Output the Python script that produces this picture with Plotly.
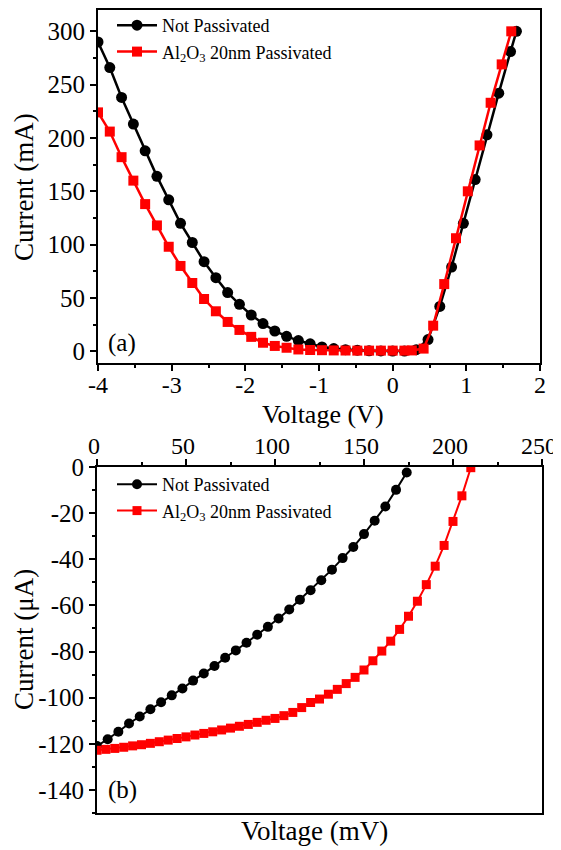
import plotly.graph_objects as go

# ---- Panel (a) data ----
v_np_a = [-4.00, -3.84, -3.68, -3.52, -3.36, -3.20, -3.04, -2.88, -2.72, -2.56, -2.40, -2.24,
          -2.08, -1.92, -1.76, -1.60, -1.44, -1.28, -1.12, -0.96, -0.80, -0.64, -0.48, -0.32,
          -0.16, 0.00, 0.16, 0.32, 0.48, 0.64, 0.80, 0.96, 1.12, 1.28, 1.44, 1.60, 1.68]
i_np_a = [290, 266, 238, 213, 188, 164, 142, 120, 102, 84, 69, 55,
          44, 34, 26, 19, 14, 10, 7, 4, 2.5, 1.5, 1.0, 0.5,
          0.3, 0.2, 0.2, 1.5, 11, 42, 79, 120, 161, 203, 242, 281, 300]

v_al_a = [-4.00, -3.84, -3.68, -3.52, -3.36, -3.20, -3.04, -2.88, -2.72, -2.56, -2.40, -2.24,
          -2.08, -1.92, -1.76, -1.60, -1.44, -1.28, -1.12, -0.96, -0.80, -0.64, -0.48, -0.32,
          -0.16, 0.00, 0.16, 0.26, 0.42, 0.55, 0.70, 0.86, 1.02, 1.18, 1.33, 1.48, 1.61]
i_al_a = [224, 206, 182, 160, 138, 118, 98, 80, 64, 49, 37.5, 27.5,
          20, 13.5, 8, 5, 3.3, 1.7, 1.2, 1.0, 0.8, 0.7, 0.6, 0.6,
          0.6, 0.6, 0.6, 0.8, 2.5, 24, 63, 106, 150, 193, 233, 269, 300]

xticks_a = [-4, -3, -2, -1, 0, 1, 2]
xlabels_a = ["-4", "-3", "-2", "-1", "0", "1", "2"]
yticks_a = [0, 50, 100, 150, 200, 250, 300]
ylabels_a = ["0", "50", "100", "150", "200", "250", "300"]

# ---- Panel (b) data ----
v_np_b = [0, 6, 12, 18, 24, 30, 36, 42, 48, 54, 60, 66, 72, 78, 84, 90, 96, 102, 108, 114,
          120, 126, 132, 138, 144, 150, 156, 162, 168, 174]
i_np_b = [-121, -118, -114.8, -111.2, -108.2, -105, -102, -99, -96, -92.6, -89.5, -86.3,
          -82.7, -79.5, -76.2, -72.7, -69.3, -65.7, -61.8, -57.5, -53.4, -49.1, -44.5, -39.5,
          -34.7, -29.1, -23.3, -17.1, -9.9, -2.4]

v_al_b = [0, 5, 10, 15, 20, 25, 30, 35, 40, 45, 50, 55, 60, 65, 70, 75, 80, 85, 90, 95,
          100, 105, 110, 115, 120, 125, 130, 135, 140, 145, 150, 155, 160, 165, 170, 175,
          180, 185, 190, 195, 200, 205, 210]
i_al_b = [-122.8, -122.4, -122.0, -121.5, -120.9, -120.4, -119.8, -119.1, -118.4, -117.7,
          -117.0, -116.2, -115.5, -114.8, -114.0, -113.2, -112.4, -111.6, -110.7, -109.8,
          -109.0, -107.8, -106.4, -104.3, -102.1, -100.6, -98.5, -96.4, -93.9, -91.2,
          -88.0, -84.0, -79.8, -75.5, -70.4, -64.7, -58.2, -51.0, -43.0, -34.0,
          -23.6, -12.5, -0.3]

xticks_b = [0, 50, 100, 150, 200, 250]
xlabels_b = ["0", "50", "100", "150", "200", "250"]
yticks_b = [0, -20, -40, -60, -80, -100, -120, -140]
ylabels_b = ["0", "-20", "-40", "-60", "-80", "-100", "-120", "-140"]

name_np = "Not Passivated"
name_al = "Al<sub>2</sub>O<sub>3</sub> 20nm Passivated"

FONT = "Liberation Serif"
OFF = 8                      # page body margin offset
W, H = 561 - OFF, 850 - OFF

fig = go.Figure()

fig.add_trace(go.Scatter(x=v_np_a, y=i_np_a, mode="lines+markers", name=name_np,
                         line=dict(color="black", width=2.5),
                         marker=dict(symbol="circle", size=11, color="black"),
                         xaxis="x", yaxis="y", legend="legend"))
fig.add_trace(go.Scatter(x=v_al_a, y=i_al_a, mode="lines+markers", name=name_al,
                         line=dict(color="#ff0000", width=2.5),
                         marker=dict(symbol="square", size=10, color="#ff0000"),
                         xaxis="x", yaxis="y", legend="legend"))
fig.add_trace(go.Scatter(x=v_np_b, y=i_np_b, mode="lines+markers", name=name_np,
                         line=dict(color="black", width=2),
                         marker=dict(symbol="circle", size=10, color="black"),
                         xaxis="x2", yaxis="y2", legend="legend2"))
fig.add_trace(go.Scatter(x=v_al_b, y=i_al_b, mode="lines+markers", name=name_al,
                         line=dict(color="#ff0000", width=2),
                         marker=dict(symbol="square", size=9, color="#ff0000"),
                         xaxis="x2", yaxis="y2", legend="legend2"))

def px_x(p):
    return (p - OFF) / W

def px_y(p):
    return 1 - (p - OFF) / H

yfont = dict(family=FONT, size=25, color="black")
xfont = dict(family=FONT, size=24, color="black")
axis_common = dict(showline=True, linecolor="black", linewidth=2, mirror=True,
                   ticks="outside", ticklen=6, tickwidth=2, tickcolor="black",
                   showgrid=False, zeroline=False, automargin=False,
                   tickmode="array")
minor_common = dict(ticklen=3, tickwidth=2, tickcolor="black", ticks="outside")

def label(text, x, y, size, angle=0):
    return dict(text=text, x=px_x(x), y=px_y(y), xref="paper", yref="paper",
                xanchor="center", yanchor="middle", showarrow=False, textangle=angle,
                font=dict(family=FONT, size=size, color="black"))

fig.update_layout(
    width=W, height=H,
    margin=dict(l=0, r=0, t=0, b=0, autoexpand=False),
    paper_bgcolor="white", plot_bgcolor="white",
    font=dict(family=FONT, color="black"),
    xaxis=dict(domain=[px_x(98), px_x(540)], range=[-4, 2], anchor="y",
               tickvals=xticks_a, ticktext=xlabels_a, ticklabelstandoff=-7, tickfont=xfont,
               minor=dict(dtick=0.5, tick0=0, **minor_common), **axis_common),
    yaxis=dict(domain=[px_y(363), px_y(10)], range=[-11, 320], anchor="x",
               tickvals=yticks_a, ticktext=ylabels_a, tickfont=yfont,
               minor=dict(dtick=25, tick0=0, **minor_common), **axis_common),
    xaxis2=dict(domain=[px_x(97), px_x(542)], range=[0, 250], anchor="y2", side="top",
                tickvals=xticks_b, ticktext=xlabels_b, ticklabelstandoff=-5,
                ticklabelshift=-3, tickfont=xfont,
                minor=dict(dtick=25, tick0=0, **minor_common), **axis_common),
    yaxis2=dict(domain=[px_y(813), px_y(467)], range=[-150, 0], anchor="x2",
                tickvals=yticks_b, ticktext=ylabels_b, tickfont=yfont,
                minor=dict(dtick=10, tick0=0, **minor_common), **axis_common),
    legend=dict(x=px_x(112), y=px_y(7), xanchor="left", yanchor="top",
                bgcolor="rgba(0,0,0,0)", font=dict(family=FONT, size=18, color="black"),
                itemwidth=40, tracegroupgap=0),
    legend2=dict(x=px_x(112), y=px_y(466), xanchor="left", yanchor="top",
                 bgcolor="rgba(0,0,0,0)", font=dict(family=FONT, size=18, color="black"),
                 itemwidth=40, tracegroupgap=0),
    annotations=[
        label("Voltage (V)", 323, 414, 26),
        label("Current (mA)", 24, 187, 27, -90),
        label("Voltage (mV)", 314, 831, 27),
        label("Current (μA)", 24, 640, 27, -90),
        label("(a)", 122, 343, 25),
        label("(b)", 122, 790, 25),
    ],
)

fig.write_html("out.html")
